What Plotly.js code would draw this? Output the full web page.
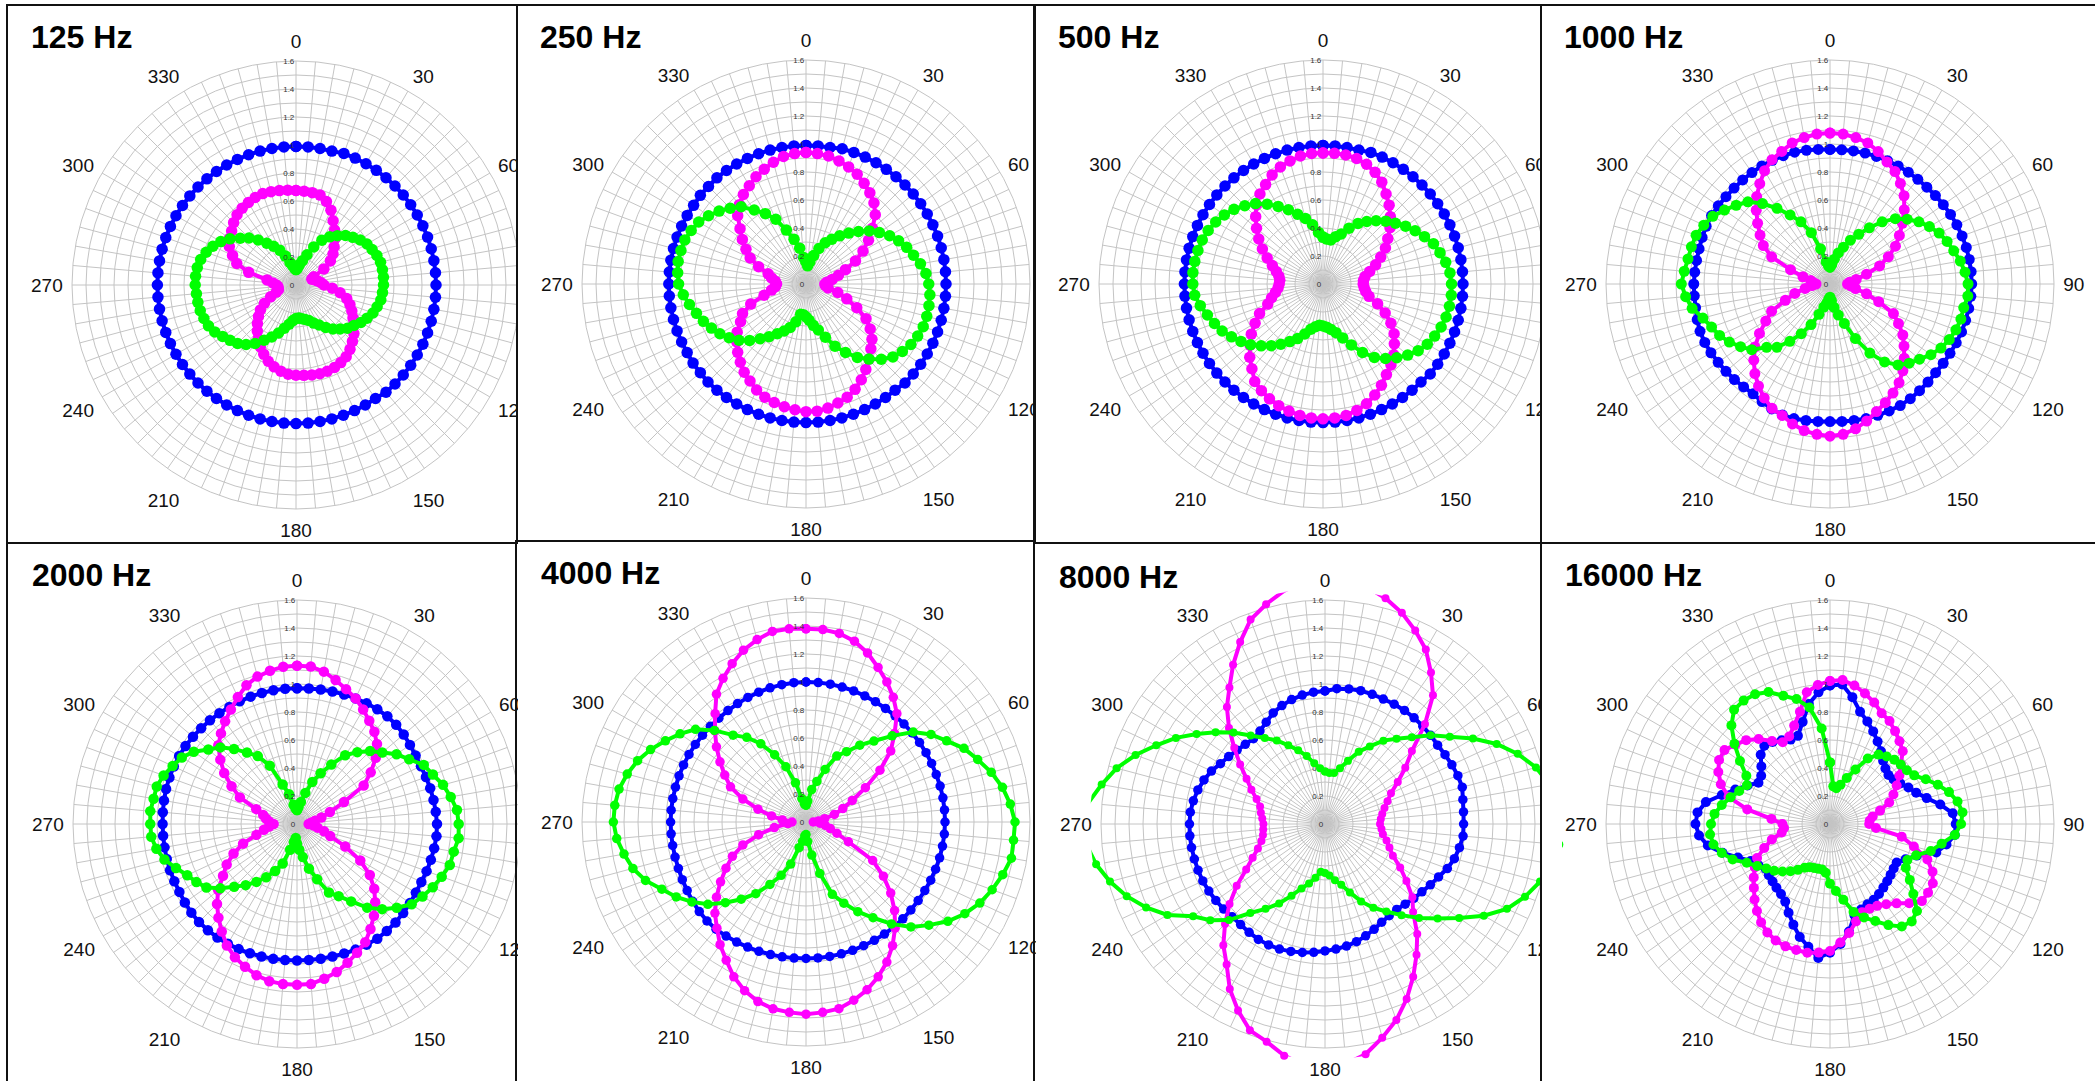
<!DOCTYPE html>
<html>
<head>
<meta charset="utf-8">
<script src="https://cdn.plot.ly/plotly-3.0.1.min.js"></script>
<style>
  html, body { margin: 0; padding: 0; background: #ffffff; }
  #chart { width: 2095px; height: 1081px; }
</style>
</head>
<body>
<div id="chart"></div>
<script>
// Measurement angles (degrees, clockwise from the top)
const ANGLES = [0,5,10,15,20,25,30,35,40,45,50,55,60,65,70,75,80,85,90,95,100,105,110,115,
  120,125,130,135,140,145,150,155,160,165,170,175,180,185,190,195,200,205,210,215,220,225,230,235,
  240,245,250,255,260,265,270,275,280,285,290,295,300,305,310,315,320,325,330,335,340,345,350,355];

// Angular tick labels (every 30 degrees)
const ANGLE_LABELS = ['0','30','60','90','120','150','180','210','240','270','300','330'];

// Radial ticks: rings every 0.1, labels every 0.2
const RADIAL_TICKS = [0,0.1,0.2,0.3,0.4,0.5,0.6,0.7,0.8,0.9,1,1.1,1.2,1.3,1.4,1.5,1.6];
const RADIAL_LABELS = ['0','','0.2','','0.4','','0.6','','0.8','','1','','1.2','','1.4','','1.6'];

const FREQ_LABELS = ['125 Hz','250 Hz','500 Hz','1000 Hz','2000 Hz','4000 Hz','8000 Hz','16000 Hz'];

// ---- 125 Hz ----
const r125_blue = [0.99,0.99,0.99,0.99,1.0,1.0,1.0,1.0,1.0,1.0,1.0,1.0,
  1.0,1.0,1.0,1.0,1.0,1.0,1.0,1.0,1.0,1.0,1.0,1.0,
  1.0,1.0,1.0,1.0,1.0,0.99,0.99,0.99,0.99,0.99,0.99,0.99,
  0.99,0.99,0.99,0.99,0.99,0.99,0.99,0.99,0.99,0.99,0.99,0.99,
  0.99,0.99,0.99,0.99,0.99,0.99,0.99,0.99,0.99,0.99,0.99,0.99,
  0.99,0.99,0.99,0.99,0.99,0.99,0.99,0.99,0.99,0.99,0.99,0.99];
const r125_magenta = [0.675,0.672,0.67,0.665,0.635,0.59,0.53,0.48,0.43,0.385,0.345,0.3,
  0.23,0.14,0.12,0.14,0.16,0.18,0.2,0.26,0.32,0.375,0.41,0.44,
  0.47,0.5,0.54,0.57,0.6,0.625,0.64,0.65,0.655,0.656,0.652,0.648,
  0.645,0.64,0.625,0.605,0.58,0.545,0.51,0.47,0.43,0.39,0.35,0.31,
  0.26,0.2,0.15,0.13,0.13,0.13,0.14,0.165,0.21,0.35,0.45,0.5,
  0.55,0.58,0.6,0.63,0.655,0.67,0.68,0.69,0.695,0.69,0.685,0.68];
const r125_green = [0.11,0.12,0.15,0.18,0.23,0.3,0.37,0.42,0.46,0.5,0.53,0.56,
  0.585,0.6,0.615,0.625,0.627,0.627,0.625,0.62,0.615,0.6,0.585,0.56,
  0.535,0.505,0.48,0.445,0.41,0.37,0.33,0.3,0.27,0.255,0.245,0.237,
  0.24,0.255,0.285,0.32,0.365,0.41,0.455,0.51,0.555,0.59,0.615,0.64,
  0.67,0.69,0.7,0.708,0.712,0.714,0.72,0.72,0.716,0.705,0.683,0.655,
  0.62,0.575,0.52,0.475,0.42,0.364,0.32,0.273,0.22,0.167,0.14,0.12];

// ---- 250 Hz ----
const r250_blue = [0.99,0.99,0.99,1.0,1.0,1.0,1.0,1.0,1.0,1.0,1.0,1.0,
  1.0,1.0,1.0,1.0,1.0,1.0,1.0,1.0,1.0,1.0,1.0,1.0,
  1.0,1.0,1.0,1.0,0.99,0.99,0.99,0.99,0.99,0.99,0.99,0.99,
  0.99,0.99,0.99,0.99,0.99,0.99,0.99,0.99,0.99,0.99,0.985,0.985,
  0.98,0.98,0.98,0.98,0.98,0.98,0.98,0.98,0.98,0.98,0.98,0.98,
  0.98,0.98,0.985,0.985,0.99,0.99,0.99,0.99,0.99,0.99,0.99,0.99];
const r250_magenta = [0.94,0.935,0.928,0.91,0.89,0.865,0.83,0.795,0.755,0.7,0.62,0.545,
  0.47,0.39,0.3,0.24,0.19,0.15,0.135,0.14,0.16,0.235,0.31,0.4,
  0.495,0.56,0.615,0.655,0.7,0.745,0.79,0.83,0.86,0.88,0.9,0.912,
  0.912,0.902,0.89,0.876,0.86,0.835,0.8,0.77,0.73,0.69,0.645,0.6,
  0.54,0.5,0.42,0.31,0.25,0.22,0.21,0.22,0.25,0.28,0.36,0.44,
  0.495,0.555,0.615,0.69,0.74,0.78,0.81,0.845,0.872,0.9,0.925,0.935];
const r250_green = [0.16,0.13,0.16,0.21,0.27,0.325,0.37,0.42,0.475,0.53,0.59,0.64,
  0.69,0.73,0.765,0.795,0.83,0.86,0.877,0.888,0.892,0.893,0.891,0.88,
  0.865,0.84,0.81,0.76,0.7,0.64,0.565,0.49,0.405,0.34,0.3,0.26,
  0.235,0.22,0.22,0.28,0.33,0.37,0.41,0.46,0.51,0.57,0.625,0.67,
  0.71,0.745,0.78,0.81,0.845,0.88,0.91,0.92,0.927,0.925,0.921,0.905,
  0.885,0.85,0.81,0.765,0.72,0.645,0.58,0.51,0.41,0.33,0.26,0.19];

// ---- 500 Hz ----
const r500_blue = [0.99,0.99,0.99,0.99,1.0,1.0,1.0,1.0,1.0,1.0,1.0,1.0,
  1.0,1.0,1.0,1.0,1.0,1.0,1.0,1.0,1.0,1.0,1.0,1.0,
  1.0,1.0,1.0,0.99,0.99,0.99,0.99,0.99,0.99,0.99,0.99,0.99,
  0.99,0.99,0.99,0.99,0.99,0.99,0.99,0.99,0.99,0.99,0.99,0.99,
  0.99,0.99,0.99,0.99,0.99,0.99,0.99,0.99,0.99,0.99,0.99,0.99,
  0.99,0.99,0.99,0.99,0.99,0.99,0.99,0.99,0.99,0.99,0.99,0.99];
const r500_magenta = [0.936,0.937,0.936,0.928,0.91,0.88,0.84,0.785,0.735,0.68,0.625,0.565,
  0.515,0.455,0.4,0.345,0.305,0.29,0.287,0.295,0.31,0.34,0.415,0.49,
  0.56,0.62,0.665,0.715,0.755,0.79,0.835,0.875,0.91,0.935,0.953,0.96,
  0.963,0.96,0.953,0.94,0.925,0.905,0.88,0.85,0.79,0.74,0.68,0.625,
  0.56,0.5,0.42,0.38,0.345,0.322,0.313,0.31,0.32,0.345,0.385,0.44,
  0.5,0.56,0.62,0.68,0.74,0.785,0.82,0.86,0.89,0.91,0.928,0.936];
const r500_green = [0.335,0.322,0.32,0.35,0.38,0.44,0.5,0.545,0.59,0.635,0.675,0.72,
  0.76,0.8,0.84,0.865,0.89,0.91,0.918,0.92,0.917,0.91,0.898,0.88,
  0.86,0.83,0.79,0.745,0.695,0.64,0.565,0.48,0.41,0.36,0.33,0.31,
  0.3,0.295,0.31,0.335,0.38,0.43,0.475,0.525,0.575,0.625,0.675,0.715,
  0.755,0.795,0.825,0.855,0.89,0.92,0.93,0.933,0.93,0.925,0.918,0.905,
  0.885,0.86,0.83,0.79,0.75,0.695,0.64,0.585,0.53,0.485,0.43,0.37];

// ---- 1000 Hz ----
const r1000_blue = [0.961,0.962,0.965,0.968,0.97,0.972,0.974,0.975,0.976,0.978,0.983,0.988,
  0.994,1.0,1.004,1.008,1.01,1.012,1.012,1.01,1.006,1.003,1.0,0.995,
  0.99,0.987,0.985,0.99,0.995,1.0,1.003,1.0,0.998,0.995,0.99,0.985,
  0.983,0.985,0.99,0.995,0.995,0.985,0.97,0.958,0.96,0.965,0.97,0.975,
  0.982,0.987,0.988,0.982,0.975,0.973,0.973,0.97,0.968,0.968,0.972,0.976,
  0.977,0.974,0.97,0.969,0.97,0.972,0.974,0.975,0.975,0.975,0.97,0.965];
const r1000_magenta = [1.078,1.075,1.062,1.043,1.007,0.962,0.928,0.877,0.823,0.75,0.675,0.605,
  0.54,0.46,0.377,0.27,0.19,0.14,0.125,0.15,0.185,0.27,0.37,0.5,
  0.565,0.635,0.69,0.75,0.81,0.86,0.9,0.935,0.97,1.013,1.05,1.078,
  1.087,1.078,1.063,1.035,0.999,0.98,0.94,0.89,0.835,0.77,0.7,0.615,
  0.53,0.46,0.34,0.26,0.18,0.13,0.1,0.12,0.14,0.2,0.3,0.46,
  0.55,0.61,0.675,0.745,0.815,0.875,0.935,0.98,1.008,1.043,1.062,1.075];
const r1000_green = [0.12,0.14,0.18,0.23,0.28,0.345,0.41,0.49,0.58,0.66,0.72,0.775,
  0.82,0.86,0.89,0.915,0.945,0.968,0.986,0.988,0.97,0.968,0.957,0.94,
  0.915,0.88,0.835,0.8,0.755,0.68,0.57,0.43,0.3,0.23,0.17,0.12,
  0.094,0.11,0.14,0.17,0.23,0.32,0.41,0.5,0.59,0.64,0.73,0.78,
  0.83,0.87,0.9,0.94,1.0,1.035,1.062,1.045,1.03,1.025,1.018,0.995,
  0.967,0.92,0.875,0.83,0.75,0.66,0.57,0.49,0.39,0.26,0.16,0.13];

// ---- 2000 Hz ----
const r2000_blue = [0.97,0.972,0.975,0.98,0.985,0.99,0.995,1.0,1.004,1.002,0.995,0.985,
  0.978,0.977,0.98,0.985,0.99,0.995,1.0,1.0,0.995,0.99,0.985,0.98,
  0.98,0.985,0.99,0.995,0.998,1.0,0.995,0.99,0.985,0.98,0.977,0.975,
  0.975,0.976,0.978,0.98,0.983,0.986,0.988,0.99,0.99,0.99,0.985,0.978,
  0.97,0.967,0.965,0.963,0.961,0.96,0.96,0.962,0.965,0.968,0.97,0.971,
  0.972,0.972,0.97,0.968,0.967,0.966,0.966,0.967,0.968,0.969,0.97,0.97];
const r2000_magenta = [1.131,1.129,1.105,1.065,1.025,0.99,0.945,0.9,0.86,0.808,0.735,0.643,
  0.55,0.37,0.25,0.18,0.13,0.1,0.083,0.12,0.15,0.2,0.253,0.38,
  0.522,0.635,0.72,0.79,0.855,0.915,0.975,1.015,1.055,1.095,1.122,1.148,
  1.149,1.148,1.14,1.118,1.085,1.05,1.002,0.937,0.873,0.808,0.735,0.645,
  0.58,0.5,0.41,0.3,0.24,0.2,0.167,0.2,0.225,0.25,0.31,0.45,
  0.54,0.635,0.715,0.795,0.845,0.895,0.945,1.0,1.055,1.09,1.111,1.128];
const r2000_green = [0.1,0.12,0.16,0.23,0.32,0.4,0.49,0.6,0.67,0.738,0.795,0.868,
  0.925,0.999,1.033,1.08,1.115,1.147,1.155,1.159,1.137,1.13,1.1,1.07,
  1.035,1.0,0.93,0.86,0.78,0.675,0.595,0.54,0.42,0.33,0.24,0.185,
  0.14,0.1,0.13,0.19,0.3,0.37,0.44,0.505,0.57,0.635,0.715,0.79,
  0.83,0.865,0.92,0.98,1.02,1.045,1.048,1.052,1.04,1.037,1.014,0.98,
  0.95,0.9,0.827,0.774,0.7,0.623,0.56,0.46,0.3,0.22,0.14,0.11];

// ---- 4000 Hz ----
const r4000_blue = [1.0,1.0,1.0,0.998,0.996,0.994,0.992,0.99,0.99,0.99,0.99,0.99,
  0.99,0.99,0.99,0.992,0.993,0.993,0.993,0.992,0.99,0.988,0.985,0.983,
  0.98,0.978,0.978,0.978,0.978,0.977,0.976,0.975,0.975,0.975,0.975,0.975,
  0.975,0.976,0.978,0.98,0.983,0.986,0.99,0.995,1.0,1.0,0.995,0.988,
  0.98,0.975,0.97,0.968,0.967,0.967,0.967,0.967,0.966,0.965,0.965,0.965,
  0.965,0.965,0.965,0.966,0.968,0.972,0.977,0.982,0.987,0.992,0.996,0.999];
const r4000_magenta = [1.38,1.38,1.368,1.337,1.285,1.218,1.155,1.087,1.01,0.895,0.79,0.645,
  0.49,0.365,0.28,0.21,0.135,0.09,0.052,0.1,0.14,0.18,0.235,0.334,
  0.55,0.675,0.79,0.895,0.99,1.078,1.155,1.22,1.275,1.318,1.354,1.365,
  1.373,1.365,1.355,1.328,1.282,1.22,1.14,1.07,0.99,0.92,0.835,0.745,
  0.66,0.58,0.48,0.35,0.23,0.13,0.1,0.17,0.25,0.355,0.48,0.595,
  0.67,0.75,0.835,0.92,1.01,1.115,1.185,1.248,1.306,1.349,1.382,1.385];
const r4000_green = [0.12,0.15,0.235,0.3,0.4,0.52,0.58,0.67,0.755,0.87,1.0,1.09,
  1.16,1.245,1.305,1.37,1.425,1.465,1.493,1.488,1.49,1.455,1.415,1.37,
  1.31,1.237,1.146,1.06,0.95,0.835,0.74,0.64,0.55,0.38,0.24,0.14,
  0.09,0.1,0.14,0.19,0.32,0.42,0.515,0.625,0.72,0.815,0.915,0.995,
  1.07,1.136,1.22,1.28,1.32,1.357,1.376,1.371,1.356,1.322,1.28,1.225,
  1.16,1.098,1.03,0.925,0.81,0.738,0.645,0.53,0.42,0.29,0.17,0.13];

// ---- 8000 Hz ----
const r8000_blue = [0.95,0.97,0.98,0.986,0.986,0.985,0.988,0.99,0.99,0.988,0.985,0.982,
  0.99,1.0,1.01,1.015,1.0,0.993,0.99,0.99,0.975,0.957,0.93,0.895,
  0.869,0.845,0.828,0.81,0.797,0.8,0.81,0.83,0.85,0.87,0.885,0.897,
  0.907,0.92,0.932,0.942,0.951,0.953,0.952,0.945,0.938,0.938,0.945,0.952,
  0.958,0.963,0.965,0.966,0.968,0.969,0.968,0.966,0.955,0.94,0.92,0.895,
  0.862,0.84,0.82,0.805,0.795,0.81,0.84,0.875,0.9,0.92,0.935,0.945];
const r8000_magenta = [1.76,1.75,1.72,1.67,1.605,1.525,1.44,1.32,1.2,1.01,0.81,0.7,
  0.6,0.52,0.475,0.44,0.415,0.4,0.393,0.405,0.42,0.455,0.49,0.535,
  0.62,0.71,0.815,0.89,1.025,1.14,1.26,1.38,1.49,1.58,1.67,1.72,
  1.74,1.73,1.68,1.61,1.568,1.47,1.36,1.225,1.13,1.01,0.89,0.77,
  0.65,0.57,0.51,0.47,0.45,0.443,0.44,0.45,0.465,0.48,0.52,0.58,
  0.647,0.74,0.846,0.97,1.09,1.19,1.313,1.434,1.554,1.625,1.69,1.74];
const r8000_green = [0.375,0.365,0.37,0.413,0.48,0.57,0.64,0.727,0.795,0.877,0.985,1.088,
  1.22,1.353,1.465,1.56,1.63,1.67,1.69,1.68,1.65,1.59,1.52,1.434,
  1.31,1.17,1.05,0.95,0.85,0.763,0.691,0.61,0.52,0.45,0.408,0.37,
  0.35,0.342,0.39,0.44,0.49,0.565,0.655,0.74,0.83,0.97,1.07,1.15,
  1.3,1.41,1.507,1.59,1.66,1.71,1.73,1.7,1.62,1.541,1.44,1.33,
  1.23,1.12,1.02,0.925,0.826,0.75,0.689,0.62,0.56,0.503,0.44,0.4];

// ---- 16000 Hz ----
const r16000_blue = [0.99,1.0,0.92,0.83,0.78,0.73,0.68,0.635,0.59,0.56,0.545,0.555,
  0.58,0.618,0.655,0.715,0.8,0.88,0.898,0.895,0.845,0.786,0.66,0.595,
  0.55,0.555,0.565,0.578,0.593,0.61,0.625,0.633,0.65,0.675,0.78,0.86,
  0.919,0.96,0.89,0.835,0.765,0.7,0.64,0.61,0.595,0.58,0.57,0.56,
  0.59,0.625,0.7,0.795,0.886,0.939,0.961,0.95,0.9,0.8,0.72,0.65,
  0.59,0.6,0.64,0.7,0.73,0.715,0.69,0.665,0.67,0.755,0.87,0.944];
const r16000_magenta = [1.022,1.032,1.005,0.965,0.924,0.873,0.85,0.81,0.772,0.735,0.66,0.605,
  0.55,0.5,0.45,0.37,0.31,0.285,0.28,0.33,0.52,0.62,0.74,0.808,
  0.848,0.855,0.857,0.8,0.74,0.7,0.675,0.668,0.67,0.72,0.79,0.85,
  0.907,0.922,0.934,0.932,0.93,0.918,0.895,0.858,0.812,0.762,0.71,0.665,
  0.62,0.575,0.5,0.43,0.35,0.33,0.34,0.42,0.6,0.75,0.83,0.88,
  0.915,0.92,0.882,0.847,0.793,0.723,0.675,0.69,0.748,0.83,0.955,0.997];
const r16000_green = [0.44,0.27,0.26,0.29,0.35,0.43,0.54,0.605,0.63,0.65,0.66,0.67,
  0.695,0.755,0.82,0.88,0.925,0.95,0.936,0.895,0.81,0.745,0.655,0.61,
  0.625,0.696,0.777,0.879,0.908,0.894,0.834,0.765,0.71,0.65,0.55,0.48,
  0.426,0.35,0.33,0.331,0.335,0.34,0.36,0.4,0.44,0.48,0.52,0.555,
  0.6,0.656,0.74,0.8,0.845,0.86,0.85,0.828,0.785,0.735,0.69,0.655,
  0.69,0.785,0.891,0.996,1.066,1.076,1.07,1.04,0.975,0.924,0.845,0.685];

// ---------------------------------------------------------------------------
// Layout geometry (pixels) and styling
const W = 2095, H = 1081;
const R = 224;                       // radius of the 1.6 ring
const FONT = 'Liberation Sans, Arial, Helvetica, sans-serif';
const GRID = '#c4c4c4';
const COLORS = ['#0000ff', '#ff00ff', '#00ff00'];

// panel centers / title anchors; clipRight marks panels whose right side is
// overlapped by the neighbouring panel; overflow widens the drawing area for
// series that run past the 1.6 ring
const PANELS = [
  { cx: 296,  cy: 285, tx: 29,   ty: 37.5,  size: [11.5, 11.5, 11.5], clipRight: true,  data: [r125_blue, r125_magenta, r125_green] },
  { cx: 806,  cy: 284, tx: 538,  ty: 37.5,  size: [11.5, 11.5, 11.5], clipRight: true,  data: [r250_blue, r250_magenta, r250_green] },
  { cx: 1323, cy: 284, tx: 1056, ty: 37.5,  size: [11.5, 11.5, 11.5], clipRight: true,  data: [r500_blue, r500_magenta, r500_green] },
  { cx: 1830, cy: 284, tx: 1562, ty: 36.5,  size: [11, 11, 11],       clipRight: false, data: [r1000_blue, r1000_magenta, r1000_green] },
  { cx: 297,  cy: 824, tx: 30,   ty: 575.5, size: [10.5, 10.5, 10.5], clipRight: true,  data: [r2000_blue, r2000_magenta, r2000_green] },
  { cx: 806,  cy: 822, tx: 539,  ty: 572.5, size: [9.5, 9.5, 9.5],    clipRight: true,  data: [r4000_blue, r4000_magenta, r4000_green] },
  { cx: 1325, cy: 824, tx: 1057, ty: 576.5, size: [9.5, 8, 8],        clipRight: true,  data: [r8000_blue, r8000_magenta, r8000_green],
    overflow: 1.05, wide: [false, true, true] },
  { cx: 1830, cy: 824, tx: 1563, ty: 575.5, size: [10, 10, 10],       clipRight: false, data: [r16000_blue, r16000_magenta, r16000_green] }
];

const angleText = ANGLES.map(a => ANGLE_LABELS.indexOf(String(a)) >= 0 ? String(a) : '');
const angleTextClipped = angleText.map(t => (t === '90' ? '' : t));

function domainFor(cx, cy, rad) {
  return { x: [(cx - rad) / W, (cx + rad) / W], y: [1 - (cy + rad) / H, 1 - (cy - rad) / H] };
}

function gridPolar(p) {
  return {
    domain: domainFor(p.cx, p.cy, R),
    bgcolor: 'rgba(0,0,0,0)',
    radialaxis: {
      range: [0, 1.6], tickmode: 'array', tickvals: RADIAL_TICKS, ticktext: RADIAL_LABELS,
      angle: 90, side: 'counterclockwise', tickangle: 90, showline: false, ticks: '',
      showgrid: true, gridcolor: GRID, gridwidth: 1,
      tickfont: { family: FONT, size: 8, color: '#333333' }
    },
    angularaxis: {
      type: 'linear', thetaunit: 'degrees', rotation: 90, direction: 'clockwise',
      tickmode: 'array', tickvals: ANGLES, ticktext: p.clipRight ? angleTextClipped : angleText,
      showline: true, linecolor: GRID, linewidth: 1,
      ticks: 'outside', ticklen: 5, tickcolor: 'rgba(0,0,0,0)',
      showgrid: true, gridcolor: GRID, gridwidth: 1,
      tickfont: { family: FONT, size: 19, color: '#111111' }
    }
  };
}

function widePolar(p) {
  const k = p.overflow;
  return {
    domain: domainFor(p.cx, p.cy, R * k),
    bgcolor: 'rgba(0,0,0,0)',
    radialaxis: { range: [0, 1.6 * k], visible: false },
    angularaxis: { rotation: 90, direction: 'clockwise', visible: false }
  };
}

const closeLoop = a => a.concat([a[0]]);
const thetaClosed = closeLoop(ANGLES);

const layout = {
  width: W, height: H,
  margin: { l: 0, r: 0, t: 0, b: 0 },
  paper_bgcolor: '#ffffff',
  showlegend: false,
  font: { family: FONT },
  annotations: [],
  shapes: []
};
const traces = [];

let nextId = 1;
const sid = n => (n === 1 ? 'polar' : 'polar' + n);

PANELS.forEach((p, i) => {
  p.gridId = sid(nextId++);
  layout[p.gridId] = gridPolar(p);
  layout.annotations.push({
    text: FREQ_LABELS[i], xref: 'paper', yref: 'paper',
    x: p.tx / W, y: 1 - p.ty / H, xanchor: 'left', yanchor: 'middle',
    showarrow: false, font: { family: FONT, size: 32, color: '#000000', weight: 700 }
  });
});
PANELS.forEach(p => {
  if (p.overflow) {
    p.wideId = sid(nextId++);
    layout[p.wideId] = widePolar(p);
  }
});

PANELS.forEach(p => {
  p.data.forEach((r, k) => {
    traces.push({
      type: 'scatterpolar',
      subplot: (p.wide && p.wide[k]) ? p.wideId : p.gridId,
      r: closeLoop(r), theta: thetaClosed,
      mode: 'lines+markers',
      line: { color: COLORS[k], width: 4 },
      marker: { color: COLORS[k], size: p.size[k] },
      hoverinfo: 'skip', showlegend: false
    });
  });
});

// white strips where a neighbouring panel overlaps, then the panel frames
const strips = [[518, 537], [1036, 1055], [1542, 1562]];
strips.forEach(s => layout.shapes.push({
  type: 'rect', xref: 'paper', yref: 'paper', layer: 'above',
  x0: s[0] / W, x1: s[1] / W, y0: 0, y1: 1,
  fillcolor: '#ffffff', line: { width: 0 }
}));
const frames = [
  [7, 5, 517, 543], [517, 5, 1035, 541], [1034, 5, 1541, 543], [1541, 5, 2110, 543],
  [7, 543, 516, 1090], [516, 541, 1034, 1090], [1034, 543, 1541, 1090], [1541, 543, 2110, 1090]
];
frames.forEach(f => layout.shapes.push({
  type: 'rect', xref: 'paper', yref: 'paper', layer: 'above',
  x0: f[0] / W, x1: f[2] / W, y0: 1 - f[3] / H, y1: 1 - f[1] / H,
  fillcolor: 'rgba(0,0,0,0)', line: { color: '#111111', width: 2 }
}));

Plotly.newPlot('chart', traces, layout, { staticPlot: true, displayModeBar: false });
</script>
</body>
</html>
